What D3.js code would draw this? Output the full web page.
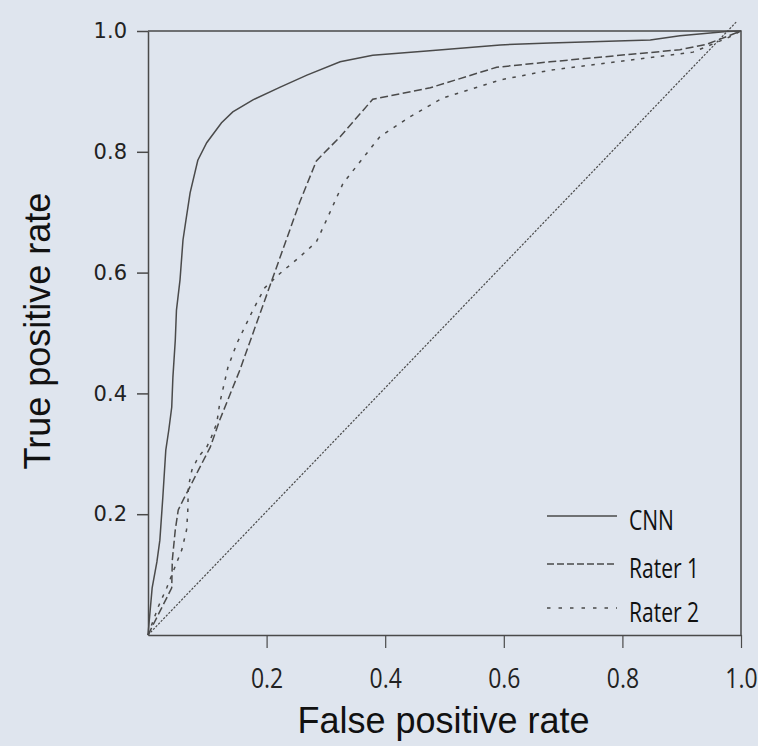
<!DOCTYPE html>
<html>
<head>
<meta charset="utf-8">
<title>ROC curves</title>
<script src="https://d3js.org/d3.v7.min.js"></script>
<style>
  body { margin: 0; background: #dfe5ee; }
  svg { display: block; }
</style>
</head>
<body>
<svg id="chart" width="758" height="746"></svg>
<script>
// tick values
const xTicks = [0.2, 0.4, 0.6, 0.8, 1.0];
const yTicks = [0.2, 0.4, 0.6, 0.8, 1.0];

// CNN curve
const cnnFpr = [0, 0.007, 0.015, 0.020, 0.025, 0.030, 0.035, 0.040, 0.042, 0.046, 0.048, 0.054, 0.059, 0.064, 0.071, 0.084, 0.099, 0.124, 0.143, 0.177, 0.223, 0.268, 0.324, 0.379, 0.470, 0.594, 0.678, 0.847, 0.897, 0.976, 1];
const cnnTpr = [0, 0.078, 0.121, 0.157, 0.228, 0.306, 0.339, 0.377, 0.427, 0.488, 0.538, 0.588, 0.654, 0.687, 0.732, 0.786, 0.815, 0.848, 0.866, 0.886, 0.907, 0.927, 0.949, 0.960, 0.967, 0.977, 0.980, 0.985, 0.992, 0.999, 1];

// Rater 1 curve
const rater1Fpr = [0, 0.040, 0.041, 0.046, 0.051, 0.061, 0.068, 0.085, 0.105, 0.121, 0.155, 0.211, 0.256, 0.284, 0.324, 0.379, 0.476, 0.588, 0.678, 0.897, 0.942, 1];
const rater1Tpr = [0, 0.078, 0.124, 0.174, 0.207, 0.227, 0.240, 0.273, 0.311, 0.356, 0.439, 0.593, 0.717, 0.785, 0.825, 0.887, 0.906, 0.940, 0.949, 0.969, 0.978, 1];

// Rater 2 curve
const rater2Fpr = [0, 0.017, 0.032, 0.048, 0.057, 0.065, 0.067, 0.068, 0.074, 0.085, 0.099, 0.107, 0.116, 0.121, 0.135, 0.150, 0.177, 0.197, 0.223, 0.256, 0.284, 0.301, 0.329, 0.391, 0.442, 0.497, 0.594, 0.678, 0.919, 0.976, 1];
const rater2Tpr = [0, 0.046, 0.079, 0.119, 0.141, 0.174, 0.202, 0.245, 0.273, 0.295, 0.311, 0.328, 0.351, 0.384, 0.444, 0.483, 0.538, 0.575, 0.599, 0.626, 0.651, 0.687, 0.748, 0.825, 0.858, 0.889, 0.919, 0.935, 0.965, 0.988, 1];

// chance line
const chanceFpr = [0, 0.993];
const chanceTpr = [0, 1.016];

const legendNames = ["CNN", "Rater 1", "Rater 2"];
const dashes = [null, "8,3.5", "3.5,6.5"];

const ink = "#4a4a4a";
const margin = {top: 31, right: 17, bottom: 111, left: 148};
const width = 758, height = 746;

const svg = d3.select("#chart");
svg.append("rect").attr("width", width).attr("height", height).attr("fill", "#dfe5ee");

const x = d3.scaleLinear().domain([0, 1]).range([margin.left, width - margin.right]);
const y = d3.scaleLinear().domain([0, 1]).range([height - margin.bottom, margin.top]);

// frame (top + right)
svg.append("path")
  .attr("d", `M${x(0)},${y(1)}H${x(1)}V${y(0)}`)
  .attr("fill", "none").attr("stroke", ink).attr("stroke-width", 1.5);

const yAxis = svg.append("g")
  .attr("transform", `translate(${x(0)},0)`)
  .call(d3.axisLeft(y).tickValues(yTicks).tickFormat(d3.format(".1f"))
        .tickSize(11).tickSizeOuter(0).tickPadding(10));
yAxis.selectAll("path,line").attr("stroke", ink).attr("stroke-width", 1.5);
yAxis.selectAll("text")
  .attr("font-family", "DejaVu Sans, Verdana, sans-serif")
  .attr("font-size", 21).attr("fill", "#222");

const xAxis = svg.append("g")
  .attr("transform", `translate(0,${y(0)})`)
  .call(d3.axisBottom(x).tickValues(xTicks).tickFormat(d3.format(".1f"))
        .tickSize(13).tickSizeOuter(0).tickPadding(21));
xAxis.selectAll("path,line").attr("stroke", ink).attr("stroke-width", 1.5);
xAxis.selectAll(".tick line").attr("stroke-width", 1.2);
xAxis.selectAll("text")
  .attr("font-family", "Open Sans, Noto Sans, sans-serif")
  .attr("font-size", 27).attr("fill", "#222")
  .attr("transform", function() {
    const ty = +d3.select(this).attr("y");
    return `translate(0,${ty}) scale(0.85,1) translate(0,${-ty})`;
  });

const line = d3.line().x(d => x(d[0])).y(d => y(d[1]));
const series = [
  d3.zip(cnnFpr, cnnTpr),
  d3.zip(rater1Fpr, rater1Tpr),
  d3.zip(rater2Fpr, rater2Tpr)
];

svg.append("path")
  .attr("d", line(d3.zip(chanceFpr, chanceTpr)))
  .attr("fill", "none").attr("stroke", ink)
  .attr("stroke-width", 1.2).attr("stroke-dasharray", "2.2,1.5");

series.forEach((s, i) => {
  svg.append("path")
    .attr("d", line(s))
    .attr("fill", "none").attr("stroke", ink)
    .attr("stroke-width", 1.5)
    .attr("stroke-dasharray", dashes[i]);
});

// legend
const legendY = [516, 564, 608];
const legend = svg.append("g");
legendNames.forEach((name, i) => {
  legend.append("line")
    .attr("x1", 547).attr("x2", 617)
    .attr("y1", legendY[i]).attr("y2", legendY[i])
    .attr("stroke", ink).attr("stroke-width", 1.4)
    .attr("stroke-dasharray", i === 0 ? null : (i === 1 ? "7,3" : "3.5,8"));
  legend.append("text")
    .attr("transform", `translate(629,${legendY[i] + 14}) scale(0.78,1)`)
    .attr("font-family", "Open Sans, Noto Sans, sans-serif")
    .attr("font-size", 27).attr("fill", "#111")
    .text(name);
});

// axis titles
svg.append("text")
  .attr("x", (x(0) + x(1)) / 2 - 1).attr("y", 733)
  .attr("text-anchor", "middle")
  .attr("font-family", "Liberation Sans, Arial, sans-serif")
  .attr("font-size", 36).attr("fill", "#111")
  .text("False positive rate");

svg.append("text")
  .attr("transform", `translate(50,331) rotate(-90)`)
  .attr("text-anchor", "middle")
  .attr("font-family", "Liberation Sans, Arial, sans-serif")
  .attr("font-size", 36).attr("fill", "#111")
  .text("True positive rate");
</script>
</body>
</html>
